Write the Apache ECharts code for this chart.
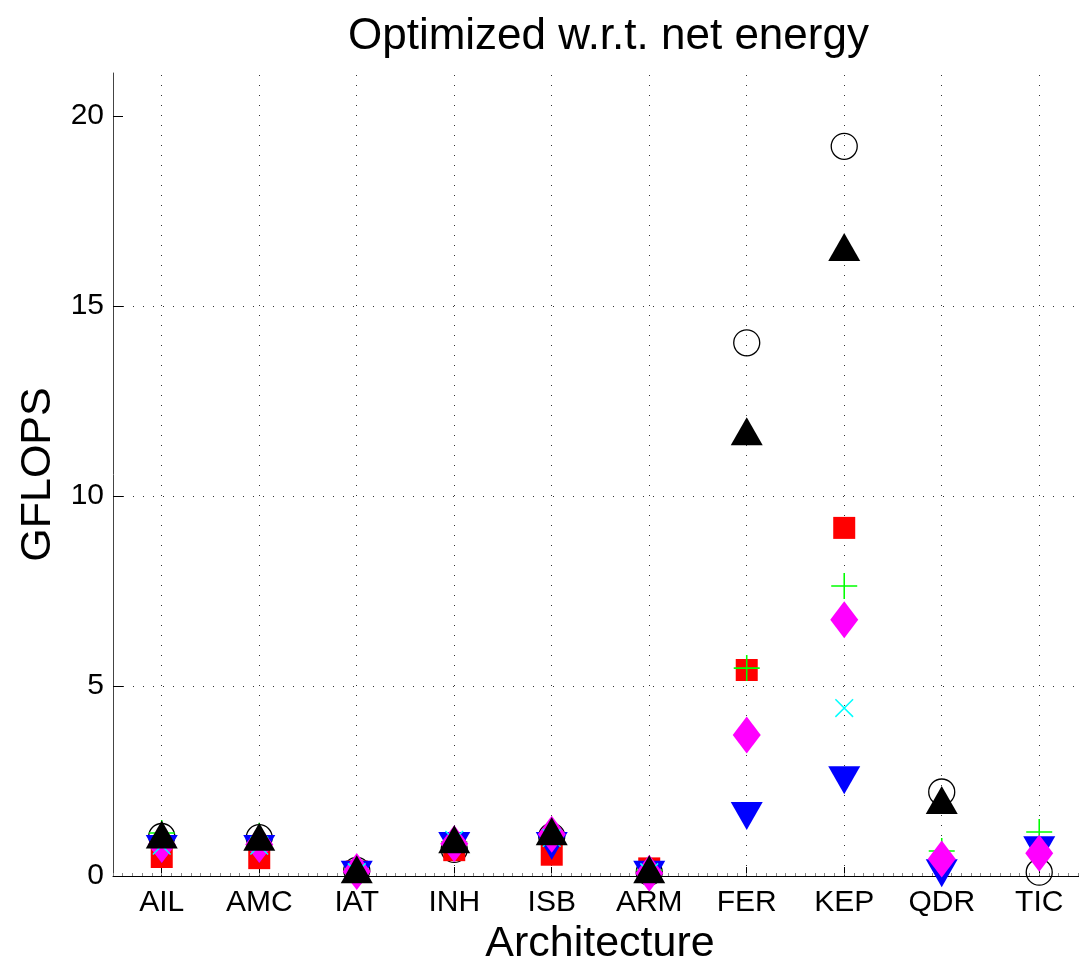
<!DOCTYPE html>
<html>
<head>
<meta charset="utf-8">
<title>Optimized w.r.t. net energy</title>
<script src="https://cdn.jsdelivr.net/npm/echarts@6/dist/echarts.min.js"></script>
<style>
	html, body { margin: 0; padding: 0; background: #fff; }
	#chart { width: 1079px; height: 961px; }
</style>
</head>
<body>
<div id="chart"></div>
<script>
var categories = ['AIL', 'AMC', 'IAT', 'INH', 'ISB', 'ARM', 'FER', 'KEP', 'QDR', 'TIC'];
var yTicks = [0, 5, 10, 15, 20];

// one array per marker series (null = not plotted)
var circleVals   = [1.04, 1.01, 0.15, 0.70, 1.04, 0.10, 14.03, 19.20, 2.21, 0.10];
var squareVals   = [0.50, 0.47, 0.12, 0.68, 0.56, 0.20, 5.42, 9.16, null, null];
var plusVals     = [1.13, 1.06, 0.15, 0.90, 1.10, 0.15, 5.47, 7.63, 0.66, 1.16];
var downTriVals  = [0.71, 0.71, 0.03, 0.79, 0.79, 0.03, 1.58, 2.52, 0.07, 0.68];
var diamondVals  = [0.83, 0.83, 0.12, 0.85, 1.10, 0.07, 3.71, 6.74, 0.45, 0.60];
var crossVals    = [0.80, 0.80, 0.10, 0.95, 1.00, 0.10, null, 4.42, null, null];
var upTriVals    = [1.09, 1.03, 0.18, 0.97, 1.18, 0.18, 11.70, 16.55, 2.00, null];

var FONT = 'Liberation Sans';
var plusPath = 'path://M9.4,0 L10.6,0 L10.6,20 L9.4,20 Z M0,9.4 L20,9.4 L20,10.6 L0,10.6 Z';

// categories sit at x = 1..10; the plot is cut off at the right edge (xlim 0.5 .. ~10.41)
var catPos = categories.map(function(c, i) { return i + 1; });
var X_MIN = 0.5, X_MAX = 10.408;

function toData(vals) {
	var out = [];
	vals.forEach(function(v, i) {
		if (v !== null) out.push([catPos[i], v]);
	});
	return out;
}

function markerSeries(name, vals, symbol, size, style, extra) {
	style.opacity = 1;
	var s = {
		name: name,
		type: 'scatter',
		data: toData(vals),
		symbol: symbol,
		symbolSize: size,
		itemStyle: style,
		emphasis: { disabled: true },
		z: 2
	};
	for (var k in extra) s[k] = extra[k];
	return s;
}

var gridLine = { color: '#333', width: 1, type: [1, 9] };

var option = {
	animation: false,
	backgroundColor: '#fff',
	title: {
		text: 'Optimized w.r.t. net energy',
		left: 343,
		top: 10,
		textStyle: { fontFamily: FONT, fontSize: 44, fontWeight: 'normal', color: '#000' }
	},
	grid: { left: 113, top: 73, right: 0, bottom: 85, outerBoundsMode: 'none' },
	xAxis: [{
		type: 'value',
		min: X_MIN,
		max: X_MAX,
		name: 'Architecture',
		nameLocation: 'middle',
		nameGap: 43,
		nameTextStyle: { fontFamily: FONT, fontSize: 43, color: '#000', padding: [0, 0, 0, 8] },
		axisLine: { lineStyle: { color: '#000', width: 1 } },
		axisTick: { inside: true, length: 9, customValues: catPos, lineStyle: { color: '#000' } },
		axisLabel: {
			fontFamily: FONT, fontSize: 30, color: '#000', margin: 12,
			customValues: catPos,
			formatter: function(v) { return categories[Math.round(v) - 1]; }
		},
		splitLine: { show: false }
	}, {
		// minor ticks along the bottom
		type: 'value',
		position: 'bottom',
		min: X_MIN,
		max: X_MAX,
		interval: 0.1,
		axisLine: { show: false },
		axisTick: { inside: true, length: 3, lineStyle: { color: '#888' } },
		axisLabel: { show: false },
		splitLine: { show: false }
	}],
	yAxis: {
		type: 'value',
		min: 0,
		max: 21.13,
		interval: 5,
		name: 'GFLOPS',
		nameLocation: 'middle',
		nameGap: 51,
		nameTextStyle: { fontFamily: FONT, fontSize: 43, color: '#000' },
		axisLine: { show: true, lineStyle: { color: '#444', width: 1 } },
		axisTick: { inside: true, length: 10, customValues: yTicks, lineStyle: { color: '#000' } },
		axisLabel: { fontFamily: FONT, fontSize: 30, color: '#000', margin: 9, customValues: yTicks },
		splitLine: { show: true, showMinLine: false, showMaxLine: false, lineStyle: gridLine }
	},
	series: [
		markerSeries('circle', circleVals, 'circle', 26,
			{ color: 'rgba(0,0,0,0)', borderColor: '#000', borderWidth: 1.3 },
			{
				markLine: {
					silent: true,
					symbol: 'none',
					z: 1,
					label: { show: false },
					lineStyle: gridLine,
					data: catPos.map(function(x) { return { xAxis: x }; })
				}
			}),
		markerSeries('square', squareVals, 'rect', 22, { color: '#ff0000' }),
		markerSeries('plus', plusVals, plusPath, 26, { color: '#00ff00' }),
		markerSeries('down', downTriVals, 'triangle', [32, 28], { color: '#0000ff' }, { symbolRotate: 180 }),
		markerSeries('diamond', diamondVals, 'diamond', [28, 37], { color: '#ff00ff' }),
		markerSeries('cross', crossVals, plusPath, 25, { color: '#00ffff' }, { symbolRotate: 45 }),
		markerSeries('up', upTriVals, 'triangle', [32, 28], { color: '#000000' })
	]
};

var chart = echarts.init(document.getElementById('chart'));
chart.setOption(option);
</script>
</body>
</html>
